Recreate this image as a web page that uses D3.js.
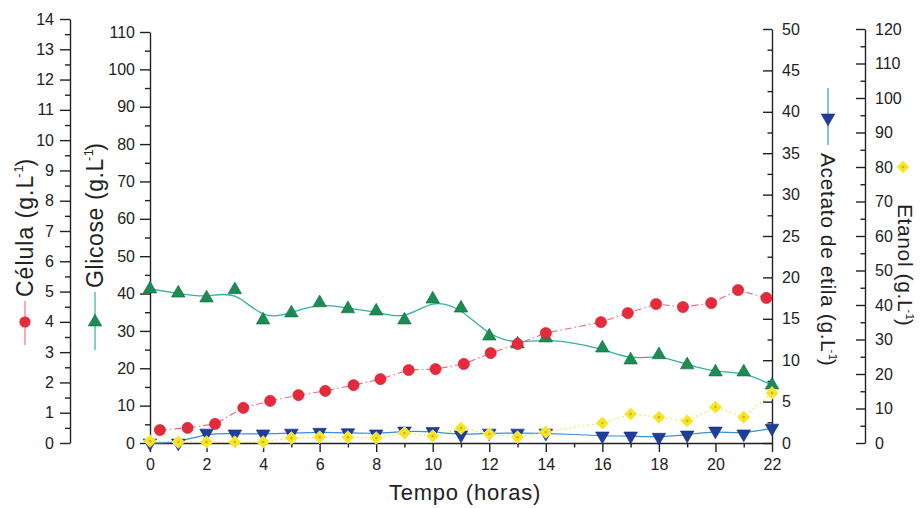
<!DOCTYPE html>
<html>
<head>
<meta charset="utf-8">
<script src="https://cdn.jsdelivr.net/npm/d3@7"></script>
<style>
  body { margin: 0; background: #fff; }
  svg { display: block; }
  text { font-family: "Liberation Sans", Arial, sans-serif; fill: #222; }
</style>
</head>
<body>
<svg></svg>
<script>
// time points (hours); 15 h was not sampled
const horas = [0, 1, 2, 3, 4, 5, 6, 7, 8, 9, 10, 11, 12, 13, 14, 16, 17, 18, 19, 20, 21, 22];
// cell series is drawn slightly shifted in the original figure
const celulaHoras = [0.35, 1.33, 2.3, 3.3, 4.25, 5.25, 6.2, 7.2, 8.15, 9.15, 10.1, 11.1,
                     12.05, 13.0, 14.0, 15.95, 16.9, 17.9, 18.85, 19.85, 20.8, 21.8];
const celula  = [0.43, 0.50, 0.63, 1.16, 1.39, 1.58, 1.72, 1.91, 2.11, 2.41, 2.44, 2.61,
                 2.97, 3.27, 3.63, 3.99, 4.29, 4.59, 4.49, 4.62, 5.05, 4.79];
const glicose = [41.2, 40.1, 38.8, 41.0, 32.9, 34.8, 37.5, 35.9, 35.3, 32.9, 38.5, 36.1,
                 28.6, 26.5, 28.1, 25.4, 22.2, 23.6, 20.9, 19.0, 19.0, 15.5];
const acetato = [0.0, 0.0, 1.2, 1.1, 1.1, 1.2, 1.3, 1.25, 1.1, 1.45, 1.4, 0.97,
                 1.2, 1.2, 1.2, 0.85, 0.85, 0.7, 0.97, 1.45, 1.1, 1.8];
const etanol  = [0.6, 0.3, 0.3, 0.3, 0.3, 1.45, 1.7, 1.7, 1.45, 2.9, 2.0, 4.3,
                 2.6, 1.7, 3.2, 5.8, 8.4, 7.5, 6.4, 10.4, 7.5, 14.5];

const width = 920,
      height = 508,
      bottom = 443,
      svg = d3.select('svg').attr('width', width).attr('height', height);

const xScale = d3.scaleLinear().domain([0, 22]).range([150, 772]),
      yCel = d3.scaleLinear().domain([0, 14]).range([bottom, 19]),
      yGli = d3.scaleLinear().domain([0, 110]).range([bottom, 32]),
      yAce = d3.scaleLinear().domain([0, 50]).range([bottom, 29]),
      yEta = d3.scaleLinear().domain([0, 120]).range([bottom, 29]);

const colors = {
  cel: '#e62a3c', celLine: '#ef6a7c',
  gli: '#1d8c52', gliLine: '#2fb3a2',
  ace: '#1f3e9c', aceLine: '#3b8fd6',
  eta: '#f4e71e', etaLine: '#efe04a'
};

// axis helper: major + minor ticks
function drawAxis(axisFn, scale, x, y, major, minor, size, pad) {
  const g = svg.append('g').attr('transform', `translate(${x},${y})`);
  g.append('g')
    .call(axisFn(scale).tickValues(minor).tickSizeInner(size / 2).tickSizeOuter(0).tickFormat(''))
    .call((s) => s.select('.domain').remove());
  g.append('g')
    .call(axisFn(scale).tickValues(major).tickSizeInner(size).tickSizeOuter(0).tickPadding(pad));
  g.selectAll('path, line').attr('stroke', '#222').attr('stroke-width', 1.4);
  g.selectAll('text').attr('font-size', 16).attr('fill', '#2a2a2a')
    .style('font-family', '"Liberation Sans", Arial, sans-serif');
  return g;
}

drawAxis(d3.axisLeft, yCel, 70, 0, d3.range(0, 15, 1), d3.range(0.5, 14, 1), 10, 6);
drawAxis(d3.axisLeft, yGli, 150, 0, d3.range(0, 111, 10), d3.range(5, 110, 10), 10, 5);
drawAxis(d3.axisRight, yAce, 772, 0, d3.range(0, 51, 5), d3.range(2.5, 50, 5), -9, 10);
drawAxis(d3.axisRight, yEta, 865, 0, d3.range(0, 121, 10), d3.range(5, 120, 10), -9, 10);
drawAxis(d3.axisBottom, xScale, 0, bottom, d3.range(0, 23, 2), d3.range(1, 22, 2), 9, 7);

// series
const rows = horas.map((h, i) => ({ h, hc: celulaHoras[i], cel: celula[i], gli: glicose[i], ace: acetato[i], eta: etanol[i] }));

svg.append('path')
  .datum(rows)
  .attr('fill', 'none')
  .attr('stroke', colors.gliLine)
  .attr('stroke-width', 1.3)
  .attr('d', d3.line().curve(d3.curveBasis).x((d) => xScale(d.h)).y((d) => yGli(d.gli)));

svg.append('path')
  .datum(rows)
  .attr('fill', 'none')
  .attr('stroke', colors.aceLine)
  .attr('stroke-width', 1.2)
  .attr('d', d3.line().curve(d3.curveBasis).x((d) => xScale(d.h)).y((d) => yAce(d.ace)));

svg.append('path')
  .datum(rows)
  .attr('fill', 'none')
  .attr('stroke', colors.etaLine)
  .attr('stroke-width', 1.3)
  .attr('stroke-dasharray', '1.5,3')
  .attr('d', d3.line().x((d) => xScale(d.h)).y((d) => yEta(d.eta)));

svg.append('path')
  .datum(rows)
  .attr('fill', 'none')
  .attr('stroke', colors.celLine)
  .attr('stroke-width', 1.1)
  .attr('stroke-dasharray', '7,3,1.5,3')
  .attr('d', d3.line().x((d) => xScale(d.hc)).y((d) => yCel(d.cel)));

const triUp = d3.symbol(d3.symbolTriangle).size(80),
      square = d3.symbol(d3.symbolSquare).size(80);

svg.append('g').selectAll('path')
  .data(rows)
  .join('path')
    .attr('d', triUp)
    .attr('transform', (d) => `translate(${xScale(d.h)},${yGli(d.gli)})`)
    .attr('fill', colors.gli)
    .attr('stroke', '#0f6a3a')
    .attr('stroke-width', 0.6);

svg.append('g').selectAll('path')
  .data(rows)
  .join('path')
    .attr('d', triUp)
    .attr('transform', (d) => `translate(${xScale(d.h)},${yAce(d.ace)}) rotate(180)`)
    .attr('fill', colors.ace)
    .attr('stroke', '#142a70')
    .attr('stroke-width', 0.6);

const etaG = svg.append('g').selectAll('g')
  .data(rows)
  .join('g')
    .attr('transform', (d) => `translate(${xScale(d.h)},${yEta(d.eta)})`);
etaG.append('path')
    .attr('d', square)
    .attr('transform', 'rotate(45)')
    .attr('fill', colors.eta)
    .attr('stroke', '#f7ef80')
    .attr('stroke-width', 0.8);
etaG.append('circle')
    .attr('r', 1.3)
    .attr('fill', '#e8a030');

svg.append('g').selectAll('circle')
  .data(rows)
  .join('circle')
    .attr('cx', (d) => xScale(d.hc))
    .attr('cy', (d) => yCel(d.cel))
    .attr('r', 5.6)
    .attr('fill', colors.cel)
    .attr('stroke', '#d01a2c')
    .attr('stroke-width', 0.6);

// axis titles with their legend keys
function axisTitle(x, y, angle, main, size, spacing) {
  const t = svg.append('text')
    .attr('transform', `translate(${x},${y}) rotate(${angle})`)
    .attr('dy', '0.35em')
    .attr('font-size', size)
    .attr('letter-spacing', spacing + 'px');
  t.append('tspan').text(main + ' (g.L');
  t.append('tspan').attr('font-size', size * 0.55).attr('dx', -3).attr('dy', -size * 0.42).text('-1');
  t.append('tspan').attr('dx', -2).attr('dy', size * 0.42).text(')');
}

axisTitle(25, 297, -90, 'Célula', 23, 1);
svg.append('line').attr('x1', 25).attr('x2', 25).attr('y1', 301).attr('y2', 345)
  .attr('stroke', colors.celLine).attr('stroke-width', 1.1);
svg.append('circle').attr('cx', 25).attr('cy', 322).attr('r', 5.6).attr('fill', colors.cel);

axisTitle(95, 288, -90, 'Glicose', 23, 0.6);
svg.append('line').attr('x1', 95).attr('x2', 95).attr('y1', 292).attr('y2', 350)
  .attr('stroke', colors.gliLine).attr('stroke-width', 1.2);
svg.append('path').attr('d', triUp).attr('transform', 'translate(95,322)')
  .attr('fill', colors.gli).attr('stroke', '#0f6a3a').attr('stroke-width', 0.6);

axisTitle(828, 153, 90, 'Acetato de etila', 21, 0.6);
svg.append('line').attr('x1', 828).attr('x2', 828).attr('y1', 88).attr('y2', 145)
  .attr('stroke', colors.aceLine).attr('stroke-width', 1.2);
svg.append('path').attr('d', triUp).attr('transform', 'translate(828,118) rotate(180)')
  .attr('fill', colors.ace).attr('stroke', '#142a70').attr('stroke-width', 0.6);

axisTitle(905, 204, 90, 'Etanol', 21, 0.6);
svg.append('path').attr('d', square).attr('transform', 'translate(903,167) rotate(45)')
  .attr('fill', colors.eta).attr('stroke', '#f7ef80').attr('stroke-width', 0.8);
svg.append('circle').attr('cx', 903).attr('cy', 167).attr('r', 1.3).attr('fill', '#e8a030');

svg.append('text')
    .text('Tempo (horas)')
    .attr('x', 465)
    .attr('y', 500)
    .attr('font-size', 22)
    .attr('letter-spacing', '0.8px')
    .style('text-anchor', 'middle');
</script>
</body>
</html>
